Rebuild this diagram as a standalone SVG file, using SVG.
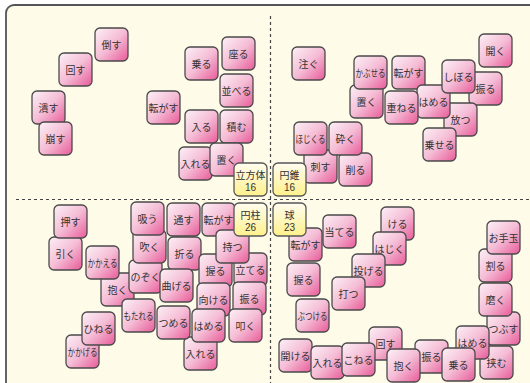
<svg xmlns="http://www.w3.org/2000/svg" width="530" height="383" viewBox="0 0 530 383">
<defs>
<linearGradient id="pk" x1="0" y1="0" x2="1" y2="1">
<stop offset="0" stop-color="#fcf1f6"/>
<stop offset="0.5" stop-color="#f5bdd6"/>
<stop offset="1" stop-color="#e85a98"/>
</linearGradient>
<linearGradient id="yl" x1="0" y1="0" x2="0" y2="1">
<stop offset="0" stop-color="#fffdf0"/>
<stop offset="1" stop-color="#fff08c"/>
</linearGradient>
<rect id="t" width="33" height="33" rx="5" ry="5"/>
</defs>
<style>
.p use{fill:url(#pk);stroke:#4a4a4a;stroke-width:1.3}
.y use{fill:url(#yl);stroke:#555;stroke-width:1.3}
text{font-family:"Noto Sans CJK JP","Noto Sans",sans-serif;font-size:10px;fill:#333;text-anchor:middle}
.n{font-family:"Liberation Sans",sans-serif;font-size:10px}
.d{stroke:#444;stroke-width:1.2;stroke-dasharray:3 3;fill:none}
</style>
<rect x="6" y="5" width="600" height="500" rx="8" fill="#fffbe9" stroke="#555" stroke-width="1.8"/>
<g id="connectors">
<line class="d" x1="270.5" y1="16" x2="270.5" y2="383"/>
<line class="d" x1="16" y1="199.5" x2="530" y2="199.5"/>
</g>
<!-- top-left -->
<g id="n1" class="p" transform="translate(95,28)"><use href="#t"/><text x="16.5" y="20.5">倒す</text></g>
<g id="n2" class="p" transform="translate(59,53)"><use href="#t"/><text x="16.5" y="20.5">回す</text></g>
<g id="n3" class="p" transform="translate(32,91)"><use href="#t"/><text x="16.5" y="20.5">潰す</text></g>
<g id="n4" class="p" transform="translate(39,122)"><use href="#t"/><text x="16.5" y="20.5">崩す</text></g>
<g id="n5" class="p" transform="translate(185,47)"><use href="#t"/><text x="16.5" y="20.5">乗る</text></g>
<g id="n6" class="p" transform="translate(222,37)"><use href="#t"/><text x="16.5" y="20.5">座る</text></g>
<g id="n7" class="p" transform="translate(220,74)"><use href="#t"/><text x="16.5" y="20.5">並べる</text></g>
<g id="n8" class="p" transform="translate(147,91)"><use href="#t"/><text x="16.5" y="20.5">転がす</text></g>
<g id="n9" class="p" transform="translate(185,110)"><use href="#t"/><text x="16.5" y="20.5">入る</text></g>
<g id="n10" class="p" transform="translate(220,110)"><use href="#t"/><text x="16.5" y="20.5">積む</text></g>
<g id="n11" class="p" transform="translate(179,147)"><use href="#t"/><text x="16.5" y="20.5">入れる</text></g>
<g id="n12" class="p" transform="translate(210,143)"><use href="#t"/><text x="16.5" y="20.5">置く</text></g>
<g id="n13" class="y" transform="translate(234,163)"><use href="#t"/><text x="16.5" y="15.5">立方体</text><text class="n" x="16.5" y="27.5">16</text></g>
<!-- top-right -->
<g id="n14" class="p" transform="translate(292,47)"><use href="#t"/><text x="16.5" y="20.5">注ぐ</text></g>
<g id="n15" class="p" transform="translate(350,85)"><use href="#t"/><text x="16.5" y="20.5">置く</text></g>
<g id="n16" class="p" transform="translate(354,56)"><use href="#t"/><text x="16.5" y="20.5" textLength="30" lengthAdjust="spacingAndGlyphs">かぶせる</text></g>
<g id="n17" class="p" transform="translate(392,56)"><use href="#t"/><text x="16.5" y="20.5">転がす</text></g>
<g id="n18" class="p" transform="translate(469,72)"><use href="#t"/><text x="16.5" y="20.5">振る</text></g>
<g id="n19" class="p" transform="translate(444,103)"><use href="#t"/><text x="16.5" y="20.5">放つ</text></g>
<g id="n20" class="p" transform="translate(417,85)"><use href="#t"/><text x="16.5" y="20.5">はめる</text></g>
<g id="n21" class="p" transform="translate(385,91)"><use href="#t"/><text x="16.5" y="20.5">重ねる</text></g>
<g id="n22" class="p" transform="translate(442,60)"><use href="#t"/><text x="16.5" y="20.5">しぼる</text></g>
<g id="n23" class="p" transform="translate(479,34)"><use href="#t"/><text x="16.5" y="20.5">開く</text></g>
<g id="n24" class="p" transform="translate(423,128)"><use href="#t"/><text x="16.5" y="20.5">乗せる</text></g>
<g id="n25" class="p" transform="translate(304,150)"><use href="#t"/><text x="16.5" y="20.5">刺す</text></g>
<g id="n26" class="p" transform="translate(339,153)"><use href="#t"/><text x="16.5" y="20.5">削る</text></g>
<g id="n27" class="p" transform="translate(294,122)"><use href="#t"/><text x="16.5" y="20.5" textLength="30" lengthAdjust="spacingAndGlyphs">ほじくる</text></g>
<g id="n28" class="p" transform="translate(329,122)"><use href="#t"/><text x="16.5" y="20.5">砕く</text></g>
<g id="n29" class="y" transform="translate(273,163)"><use href="#t"/><text x="16.5" y="15.5">円錐</text><text class="n" x="16.5" y="27.5">16</text></g>
<!-- bottom-left -->
<g id="n30" class="p" transform="translate(49,237)"><use href="#t"/><text x="16.5" y="20.5">引く</text></g>
<g id="n31" class="p" transform="translate(54,205)"><use href="#t"/><text x="16.5" y="20.5">押す</text></g>
<g id="n32" class="p" transform="translate(101,273)"><use href="#t"/><text x="16.5" y="20.5">抱く</text></g>
<g id="n33" class="p" transform="translate(86,246)"><use href="#t"/><text x="16.5" y="20.5" textLength="30" lengthAdjust="spacingAndGlyphs">かかえる</text></g>
<g id="n34" class="p" transform="translate(129,260)"><use href="#t"/><text x="16.5" y="20.5">のぞく</text></g>
<g id="n35" class="p" transform="translate(133,230)"><use href="#t"/><text x="16.5" y="20.5">吹く</text></g>
<g id="n36" class="p" transform="translate(131,202)"><use href="#t"/><text x="16.5" y="20.5">吸う</text></g>
<g id="n37" class="p" transform="translate(168,237)"><use href="#t"/><text x="16.5" y="20.5">折る</text></g>
<g id="n38" class="p" transform="translate(160,269)"><use href="#t"/><text x="16.5" y="20.5">曲げる</text></g>
<g id="n39" class="p" transform="translate(167,203)"><use href="#t"/><text x="16.5" y="20.5">通す</text></g>
<g id="n40" class="p" transform="translate(202,203)"><use href="#t"/><text x="16.5" y="20.5">転がす</text></g>
<g id="n41" class="p" transform="translate(199,254)"><use href="#t"/><text x="16.5" y="20.5">握る</text></g>
<g id="n42" class="p" transform="translate(234,253)"><use href="#t"/><text x="16.5" y="20.5">立てる</text></g>
<g id="n43" class="p" transform="translate(216,230)"><use href="#t"/><text x="16.5" y="20.5">持つ</text></g>
<g id="n44" class="p" transform="translate(197,283)"><use href="#t"/><text x="16.5" y="20.5">向ける</text></g>
<g id="n45" class="p" transform="translate(233,282)"><use href="#t"/><text x="16.5" y="20.5">振る</text></g>
<g id="n46" class="p" transform="translate(184,337)"><use href="#t"/><text x="16.5" y="20.5">入れる</text></g>
<g id="n47" class="p" transform="translate(122,299)"><use href="#t"/><text x="16.5" y="20.5" textLength="30" lengthAdjust="spacingAndGlyphs">もたれる</text></g>
<g id="n48" class="p" transform="translate(157,306)"><use href="#t"/><text x="16.5" y="20.5">つめる</text></g>
<g id="n49" class="p" transform="translate(192,309)"><use href="#t"/><text x="16.5" y="20.5">はめる</text></g>
<g id="n50" class="p" transform="translate(229,309)"><use href="#t"/><text x="16.5" y="20.5">叩く</text></g>
<g id="n51" class="p" transform="translate(66,335)"><use href="#t"/><text x="16.5" y="20.5" textLength="30" lengthAdjust="spacingAndGlyphs">かかげる</text></g>
<g id="n52" class="p" transform="translate(82,312)"><use href="#t"/><text x="16.5" y="20.5">ひねる</text></g>
<g id="n53" class="y" transform="translate(234,203)"><use href="#t"/><text x="16.5" y="15.5">円柱</text><text class="n" x="16.5" y="27.5">26</text></g>
<!-- bottom-right -->
<g id="n54" class="p" transform="translate(289,228)"><use href="#t"/><text x="16.5" y="20.5">転がす</text></g>
<g id="n55" class="y" transform="translate(273,203)"><use href="#t"/><text x="16.5" y="15.5">球</text><text class="n" x="16.5" y="27.5">23</text></g>
<g id="n56" class="p" transform="translate(323,215)"><use href="#t"/><text x="16.5" y="20.5">当てる</text></g>
<g id="n57" class="p" transform="translate(287,263)"><use href="#t"/><text x="16.5" y="20.5">握る</text></g>
<g id="n58" class="p" transform="translate(296,299)"><use href="#t"/><text x="16.5" y="20.5" textLength="30" lengthAdjust="spacingAndGlyphs">ぶつける</text></g>
<g id="n59" class="p" transform="translate(381,207)"><use href="#t"/><text x="16.5" y="20.5">ける</text></g>
<g id="n60" class="p" transform="translate(373,232)"><use href="#t"/><text x="16.5" y="20.5">はじく</text></g>
<g id="n61" class="p" transform="translate(352,254)"><use href="#t"/><text x="16.5" y="20.5">投げる</text></g>
<g id="n62" class="p" transform="translate(332,277)"><use href="#t"/><text x="16.5" y="20.5">打つ</text></g>
<g id="n63" class="p" transform="translate(479,249)"><use href="#t"/><text x="16.5" y="20.5">割る</text></g>
<g id="n64" class="p" transform="translate(487,221)"><use href="#t"/><text x="16.5" y="20.5">お手玉</text></g>
<g id="n65" class="p" transform="translate(487,312)"><use href="#t"/><text x="16.5" y="20.5">つぶす</text></g>
<g id="n66" class="p" transform="translate(479,283)"><use href="#t"/><text x="16.5" y="20.5">磨く</text></g>
<g id="n67" class="p" transform="translate(480,346)"><use href="#t"/><text x="16.5" y="20.5">挟む</text></g>
<g id="n68" class="p" transform="translate(456,326)"><use href="#t"/><text x="16.5" y="20.5">はめる</text></g>
<g id="n69" class="p" transform="translate(279,339)"><use href="#t"/><text x="16.5" y="20.5">開ける</text></g>
<g id="n70" class="p" transform="translate(311,346)"><use href="#t"/><text x="16.5" y="20.5">入れる</text></g>
<g id="n71" class="p" transform="translate(369,327)"><use href="#t"/><text x="16.5" y="20.5">回す</text></g>
<g id="n72" class="p" transform="translate(342,343)"><use href="#t"/><text x="16.5" y="20.5">こねる</text></g>
<g id="n73" class="p" transform="translate(415,340)"><use href="#t"/><text x="16.5" y="20.5">振る</text></g>
<g id="n74" class="p" transform="translate(387,349)"><use href="#t"/><text x="16.5" y="20.5">抱く</text></g>
<g id="n75" class="p" transform="translate(442,348)"><use href="#t"/><text x="16.5" y="20.5">乗る</text></g>
</svg>
